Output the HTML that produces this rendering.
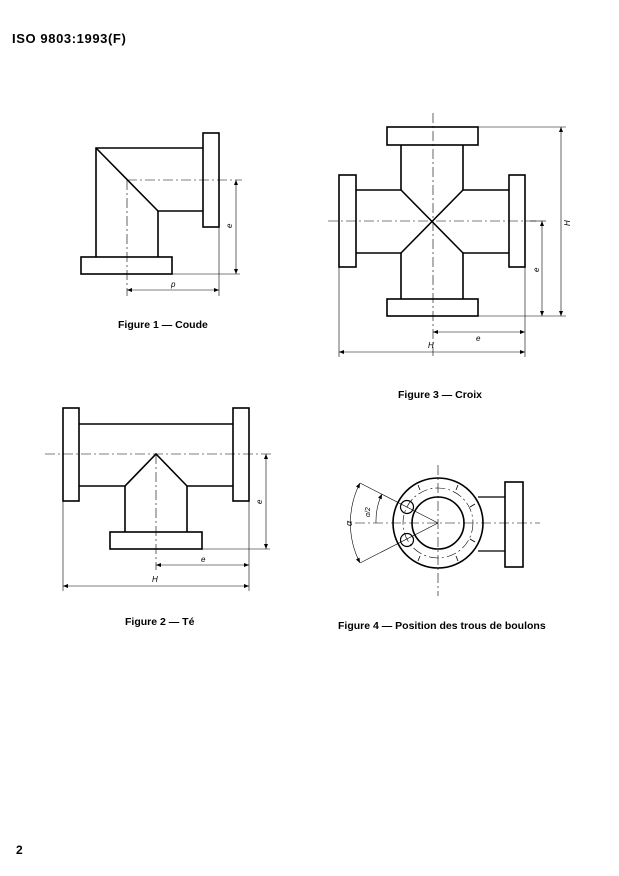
<!DOCTYPE html>
<html><head><meta charset="utf-8"><style>
html,body{margin:0;padding:0;background:#fff;}
svg{display:block;}
text{font-family:"Liberation Sans",Arial,sans-serif;fill:#000;}
.t{font-weight:bold;font-size:10.5px;}
</style></head><body>
<svg width="619" height="876" viewBox="0 0 619 876" xmlns="http://www.w3.org/2000/svg">
<defs>
<marker id="a" viewBox="0 0 10 10" refX="10" refY="5" markerWidth="7" markerHeight="5" orient="auto-start-reverse" markerUnits="userSpaceOnUse"><path d="M0,1 L10,5 L0,9 z" fill="#000"/></marker>
</defs>
<text x="12" y="43" style="font-weight:bold;font-size:13px;letter-spacing:0.6px">ISO 9803:1993(F)</text>
<text x="16" y="854" style="font-weight:bold;font-size:12px">2</text>

<g fill="none" stroke="#000">
<!-- Figure 1 -->
<g stroke-width="1.6">
<rect x="203" y="133" width="16" height="94"/>
<rect x="81" y="257" width="91" height="17"/>
<polyline points="203,148 96,148 96,257"/>
<polyline points="96,148 158,211 203,211"/>
<line x1="158" y1="211" x2="158" y2="257"/>
</g>
<g stroke-width="0.6">
<line x1="127" y1="180" x2="242" y2="180" stroke-dasharray="10,3,2,3"/>
<line x1="127" y1="180" x2="127" y2="296" stroke-dasharray="10,3,2,3"/>
<line x1="172" y1="274" x2="240" y2="274"/>
<line x1="219" y1="227" x2="219" y2="296"/>
<line x1="236" y1="180" x2="236" y2="274" marker-start="url(#a)" marker-end="url(#a)"/>
<line x1="127" y1="290" x2="219" y2="290" marker-start="url(#a)" marker-end="url(#a)"/>
</g>

<!-- Figure 3 -->
<g stroke-width="1.6">
<rect x="387" y="127" width="91" height="18"/>
<rect x="387" y="299" width="91" height="17"/>
<rect x="339" y="175" width="17" height="92"/>
<rect x="509" y="175" width="16" height="92"/>
<polyline points="401,145 401,190 356,190"/>
<polyline points="463,145 463,190 509,190"/>
<polyline points="401,299 401,253 356,253"/>
<polyline points="463,299 463,253 509,253"/>
<line x1="401" y1="190" x2="463" y2="253"/>
<line x1="463" y1="190" x2="401" y2="253"/>
</g>
<g stroke-width="0.6">
<line x1="433" y1="113" x2="433" y2="356" stroke-dasharray="10,3,2,3"/>
<line x1="328" y1="221" x2="538" y2="221" stroke-dasharray="10,3,2,3"/>
<line x1="478" y1="127" x2="566" y2="127"/>
<line x1="478" y1="316" x2="566" y2="316"/>
<line x1="530" y1="221" x2="546" y2="221"/>
<line x1="525" y1="267" x2="525" y2="357"/>
<line x1="339" y1="267" x2="339" y2="357"/>
<line x1="561" y1="127" x2="561" y2="316" marker-start="url(#a)" marker-end="url(#a)"/>
<line x1="542" y1="221" x2="542" y2="316" marker-start="url(#a)" marker-end="url(#a)"/>
<line x1="433" y1="332" x2="525" y2="332" marker-start="url(#a)" marker-end="url(#a)"/>
<line x1="339" y1="352" x2="525" y2="352" marker-start="url(#a)" marker-end="url(#a)"/>
</g>

<!-- Figure 2 -->
<g stroke-width="1.6">
<rect x="63" y="408" width="16" height="93"/>
<rect x="233" y="408" width="16" height="93"/>
<rect x="110" y="532" width="92" height="17"/>
<line x1="79" y1="424" x2="233" y2="424"/>
<polyline points="79,486 125,486 156,454 187,486 233,486"/>
<line x1="125" y1="486" x2="125" y2="532"/>
<line x1="187" y1="486" x2="187" y2="532"/>
</g>
<g stroke-width="0.6">
<line x1="45" y1="454" x2="272" y2="454" stroke-dasharray="10,3,2,3"/>
<line x1="156" y1="454" x2="156" y2="570" stroke-dasharray="10,3,2,3"/>
<line x1="202" y1="549" x2="270" y2="549"/>
<line x1="249" y1="501" x2="249" y2="591"/>
<line x1="63" y1="501" x2="63" y2="591"/>
<line x1="266" y1="454" x2="266" y2="549" marker-start="url(#a)" marker-end="url(#a)"/>
<line x1="156" y1="565" x2="249" y2="565" marker-start="url(#a)" marker-end="url(#a)"/>
<line x1="63" y1="586" x2="249" y2="586" marker-start="url(#a)" marker-end="url(#a)"/>
</g>

<!-- Figure 4 -->
<g stroke-width="1.6">
<circle cx="438" cy="523" r="45"/>
<circle cx="438" cy="523" r="26"/>
<circle cx="407" cy="507" r="6.5" stroke-width="1.2"/>
<circle cx="407" cy="540" r="6.5" stroke-width="1.2"/>
<rect x="505" y="482" width="18" height="85"/>
<line x1="478" y1="497" x2="505" y2="497" stroke-width="1.2"/>
<line x1="478" y1="551" x2="505" y2="551" stroke-width="1.2"/>
</g>
<g stroke-width="0.6">
<circle cx="438" cy="523" r="35" stroke-dasharray="10,3,2,3"/>
<line x1="355" y1="523" x2="540" y2="523" stroke-dasharray="10,3,2,3"/>
<line x1="438" y1="465" x2="438" y2="596" stroke-dasharray="10,3,2,3"/>
<line x1="438" y1="523" x2="360" y2="483"/>
<line x1="438" y1="523" x2="360" y2="563"/>
<path d="M360,483 A88,88 0 0 0 360,563" marker-start="url(#a)" marker-end="url(#a)"/>
<path d="M382,494 A63,63 0 0 0 376,523" marker-start="url(#a)"/>
<g stroke-width="0.8">
<line x1="420" y1="490" x2="418" y2="485"/>
<line x1="456" y1="490" x2="458" y2="485"/>
<line x1="470" y1="507" x2="475" y2="504"/>
<line x1="470" y1="539" x2="475" y2="542"/>
<line x1="456" y1="556" x2="458" y2="561"/>
<line x1="420" y1="556" x2="418" y2="561"/>
</g>
</g>
</g>

<g style="font-size:8px;font-style:italic">
<text transform="translate(232,228) rotate(-90)">e</text>
<text x="171" y="287">p</text>
<text transform="translate(570,226) rotate(-90)">H</text>
<text transform="translate(539,272) rotate(-90)">e</text>
<text x="476" y="341">e</text>
<text x="428" y="348">H</text>
<text transform="translate(262,504) rotate(-90)">e</text>
<text x="201" y="562">e</text>
<text x="152" y="582">H</text>
<text transform="translate(352,526) rotate(-90)" style="font-size:9px">α</text>
<text transform="translate(370,517) rotate(-90)" style="font-size:7px">α/2</text>
</g>

<text class="t" x="118" y="328">Figure 1 — Coude</text>
<text class="t" x="398" y="398">Figure 3 — Croix</text>
<text class="t" x="125" y="625">Figure 2 — Té</text>
<text class="t" x="338" y="629">Figure 4 — Position des trous de boulons</text>
</svg>
</body></html>
